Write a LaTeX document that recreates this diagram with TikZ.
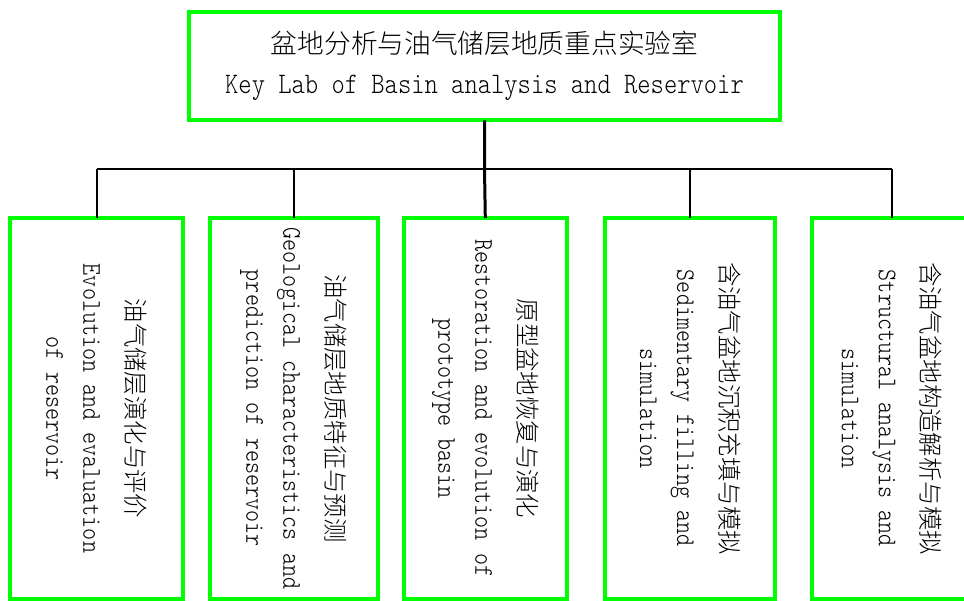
\documentclass[tikz,border=0pt]{standalone}
\usepackage{fontspec}
\usepackage{tikz}
\usetikzlibrary{positioning}
\newfontfamily\cjk{Noto Sans CJK SC}[UprightFont=* Light]
\newfontfamily\entt{lmmonolt10-regular}[Extension=.otf, FakeStretch=0.85]
\definecolor{LabGreen}{RGB}{0,255,0}

\begin{document}
\begin{tikzpicture}[x=1pt, y=1pt,
      topbox/.style={rectangle, draw=LabGreen, line width=4pt, outer sep=0pt,
                     inner sep=0pt, minimum width=591pt, minimum height=108.6pt,
                     align=center, font=\entt\fontsize{29.8}{40}\selectfont},
      subbox/.style={rectangle, draw=LabGreen, line width=4pt, outer sep=0pt,
                     inner sep=0pt, rotate=-90, anchor=west, minimum width=381pt,
                     align=center, font=\entt\fontsize{27}{37}\selectfont},
      trunk/.style={draw=black, line width=3pt},
      branch/.style={draw=black, line width=2pt}
    ]
    \useasboundingbox (0,0) rectangle (964,-601);

    \node[topbox] (lab) at (484.5,-66)
          {{\cjk\fontsize{26.7}{40}\selectfont 盆地分析与油气储层地质重点实验室}\\
           Key Lab of Basin analysis and Reservoir};

    \node[subbox, minimum height=172.4pt] (evo)  at (96.5,-218)
          {{\cjk\fontsize{24.4}{37}\selectfont 油气储层演化与评价}\\[6pt]
           Evolution and evaluation\\ of reservoir};
    \node[subbox, minimum height=168pt]   (geo)  at (293.5,-218)
          {{\cjk\fontsize{24.4}{37}\selectfont 油气储层地质特征与预测}\\[6pt]
           Geological characteristics and\\ prediction of reservoir};
    \node[subbox, minimum height=162.5pt] (proto) at (485.3,-218)
          {{\cjk\fontsize{24.4}{37}\selectfont 原型盆地恢复与演化}\\[6pt]
           Restoration and evolution of\\ prototype basin};
    \node[subbox, minimum height=170.5pt] (sedi) at (690.2,-218)
          {{\cjk\fontsize{24.4}{37}\selectfont 含油气盆地沉积充填与模拟}\\[6pt]
           Sedimentary filling and\\ simulation};
    \node[subbox, minimum height=160.6pt] (struc) at (892,-218)
          {{\cjk\fontsize{24.4}{37}\selectfont 含油气盆地构造解析与模拟}\\[6pt]
           Structural analysis and\\ simulation};

    % connectors
    \coordinate (bus) at (484.5,-169);
    \draw[branch] (evo.west |- bus) -- (struc.west |- bus);
    \foreach \n in {evo, geo, sedi, struc}{
      \draw[branch] (\n.west |- bus) -- (\n.west);
    }
    \draw[trunk] (lab.south) -- (bus) -- (proto.west);
  \end{tikzpicture}
\end{document}
